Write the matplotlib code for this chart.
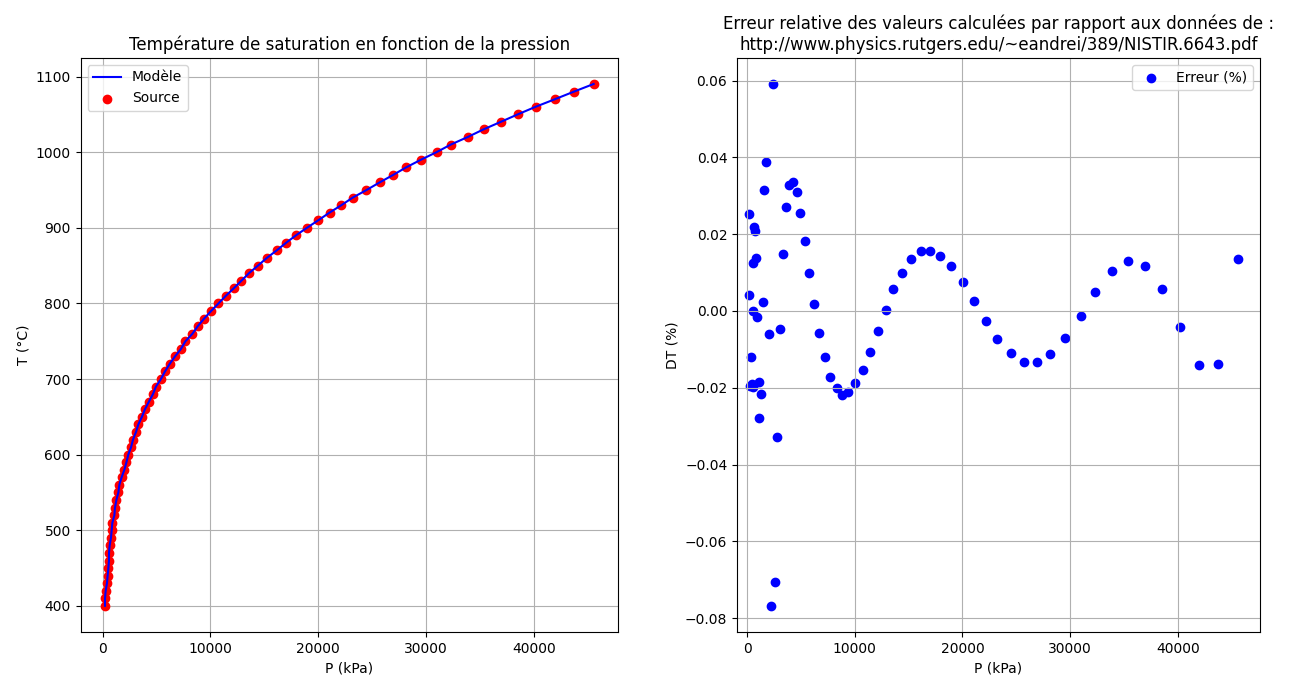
import numpy as np
import matplotlib
matplotlib.use('Agg')
import matplotlib.pyplot as plt

# Températures de saturation (°C)
temperatures = [400, 410, 420, 430, 440, 450, 460, 470, 480, 490,
                500, 510, 520, 530, 540, 550, 560, 570, 580, 590,
                600, 610, 620, 630, 640, 650, 660, 670, 680, 690,
                700, 710, 720, 730, 740, 750, 760, 770, 780, 790,
                800, 810, 820, 830, 840, 850, 860, 870, 880, 890,
                900, 910, 920, 930, 940, 950, 960, 970, 980, 990,
                1000, 1010, 1020, 1030, 1040, 1050, 1060, 1070, 1080, 1090]

# Pressions lues (kPa)
pressions = [216, 216, 280, 400, 460, 529, 585, 585, 650, 770,
             836, 900, 1086, 1142, 1272, 1458, 1548, 1764, 2015, 2200,
             2385, 2630, 2815, 3094, 3313, 3650, 3930, 4300, 4672, 4950,
             5415, 5787, 6220, 6716, 7272, 7677, 8330, 8820, 9410, 10055,
             10740, 11420, 12165, 12875, 13585, 14420, 15230, 16155, 17020, 17950,
             18970, 20025, 21050, 22160, 23210, 24480, 25690, 26955, 28165, 29525,
             30985, 32310, 33890, 35345, 36955, 38535, 40170, 41940, 43700, 45560]

# Erreur relative (%)
erreurs = [0.0253, 0.0042, -0.0196, -0.0121, -0.0190, 0.0001, -0.0199, 0.0124, 0.0218, 0.0209,
           0.0137, -0.0016, -0.0184, -0.0280, -0.0216, 0.0022, 0.0314, 0.0387, -0.0060, -0.0768,
           0.0591, -0.0707, -0.0327, -0.0048, 0.0147, 0.0270, 0.0327, 0.0336, 0.0309, 0.0254,
           0.0181, 0.0099, 0.0017, -0.0058, -0.0120, -0.0171, -0.0200, -0.0219, -0.0212, -0.0188,
           -0.0154, -0.0107, -0.0052, 0.0003, 0.0057, 0.0100, 0.0135, 0.0155, 0.0157, 0.0143,
           0.0117, 0.0076, 0.0027, -0.0026, -0.0072, -0.0110, -0.0134, -0.0134, -0.0113, -0.0070,
           -0.0012, 0.0050, 0.0105, 0.0131, 0.0117, 0.0057, -0.0043, -0.0142, -0.0139, 0.0135]

T = np.array(temperatures)
P = np.array(pressions)
err = np.array(erreurs)
T_modele = T * (1 + err / 100)

fig = plt.figure(figsize=(13.1, 6.77), dpi=100)
ax1 = fig.add_axes([0.0615, 0.0665, 0.4103, 0.848])
ax2 = fig.add_axes([0.5626, 0.0665, 0.3992, 0.848])

# Courbe de saturation
ax1.plot(P, T_modele, 'b-', label='Modèle', zorder=3)
ax1.scatter(P, T, color='red', label='Source', zorder=2)
ax1.set_title('Température de saturation en fonction de la pression')
ax1.set_xlabel('P (kPa)')
ax1.set_ylabel('T (°C)')
ax1.grid(True)
ax1.legend(loc='upper left')

# Erreur relative
ax2.scatter(P, err, color='blue', label='Erreur (%)')
ax2.set_xlim(-930, 47610)
ax2.set_title('Erreur relative des valeurs calculées par rapport aux données de :\n'
              'http://www.physics.rutgers.edu/~eandrei/389/NISTIR.6643.pdf')
ax2.set_xlabel('P (kPa)')
ax2.set_ylabel('DT (%)')
ax2.grid(True)
ax2.legend(loc='upper right')

fig.savefig('out.png', dpi=100)
